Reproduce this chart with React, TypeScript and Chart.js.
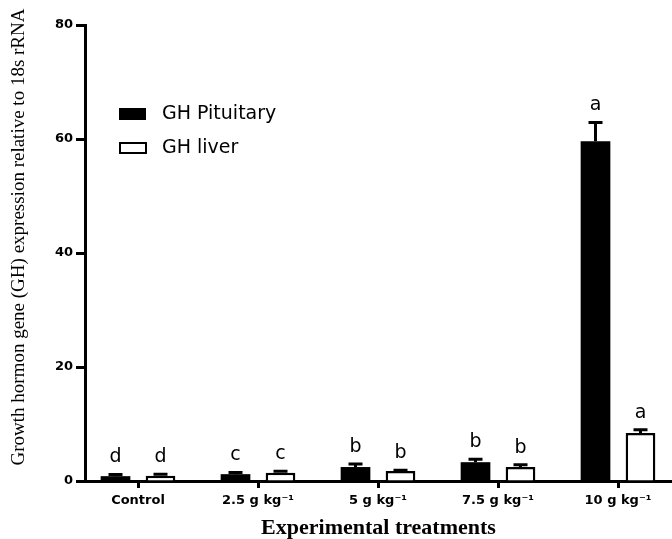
import React, { useEffect, useRef } from 'react';
import { Chart, registerables } from 'chart.js';

Chart.register(...registerables);

// ---- data ----
const categories = ['Control', '2.5 g kg⁻¹', '5 g kg⁻¹', '7.5 g kg⁻¹', '10 g kg⁻¹'];
const seriesNames = ['GH Pituitary', 'GH liver'];
const pituitary = [0.85, 1.2, 2.45, 3.3, 59.6];
const pituitaryErr = [0.3, 0.3, 0.55, 0.5, 3.3];
const pituitaryLetters = ['d', 'c', 'b', 'b', 'a'];
const liver = [0.9, 1.45, 1.75, 2.45, 8.4];
const liverErr = [0.3, 0.25, 0.15, 0.4, 0.6];
const liverLetters = ['d', 'c', 'b', 'b', 'a'];
const yTicks = [0, 20, 40, 60, 80];
const yTitle = 'Growth hormon gene (GH) expression relative to 18s rRNA';
const xTitle = 'Experimental treatments';

const annotatePlugin = {
  id: 'annotate',
  afterDatasetsDraw(chart: any) {
    const ctx = chart.ctx;
    const yScale = chart.scales.y;
    chart.data.datasets.forEach((ds: any, di: number) => {
      const meta = chart.getDatasetMeta(di);
      meta.data.forEach((bar: any, i: number) => {
        const v = ds.data[i].y;
        const e = ds.errors[i];
        const topPx = yScale.getPixelForValue(v + e);
        ctx.save();
        ctx.strokeStyle = '#000';
        ctx.lineWidth = 3;
        ctx.beginPath();
        ctx.moveTo(bar.x, bar.y);
        ctx.lineTo(bar.x, topPx);
        ctx.moveTo(bar.x - 7, topPx);
        ctx.lineTo(bar.x + 7, topPx);
        ctx.stroke();
        ctx.fillStyle = '#000';
        ctx.font = '19px "DejaVu Sans"';
        ctx.textAlign = 'center';
        ctx.textBaseline = 'alphabetic';
        ctx.fillText(ds.letters[i], bar.x, topPx - 12);
        ctx.restore();
      });
    });
  },
  afterDraw(chart: any) {
    const ctx = chart.ctx;
    ctx.save();
    // legend
    const items = chart.data.datasets;
    items.forEach((ds: any, i: number) => {
      const bx = 119;
      const by = 108 + i * 34;
      if (i === 0) {
        ctx.fillStyle = '#000';
        ctx.fillRect(bx, by, 27, 12);
      } else {
        ctx.fillStyle = '#fff';
        ctx.fillRect(bx + 1, by + 1, 26, 10);
        ctx.strokeStyle = '#000';
        ctx.lineWidth = 2;
        ctx.strokeRect(bx + 1, by + 1, 26, 10);
      }
      ctx.fillStyle = '#000';
      ctx.font = '19px "DejaVu Sans"';
      ctx.textAlign = 'left';
      ctx.textBaseline = 'middle';
      ctx.fillText(ds.label, 162, by + 6);
    });
    // y title
    ctx.translate(19, 237);
    ctx.rotate(-Math.PI / 2);
    ctx.font = '19px "Liberation Serif"';
    ctx.textAlign = 'center';
    ctx.textBaseline = 'middle';
    ctx.fillStyle = '#000';
    ctx.fillText(yTitle, 0, 0);
    ctx.restore();
  },
};

export default function App() {
  const canvasRef = useRef<HTMLCanvasElement | null>(null);

  useEffect(() => {
    document.body.style.margin = '0';
    const canvas = canvasRef.current;
    if (!canvas) return;
    const chart = new Chart(canvas, {
      type: 'bar',
      data: {
        datasets: [
          {
            label: seriesNames[0],
            data: pituitary.map((v, i) => ({ x: i, y: v })),
            errors: pituitaryErr,
            letters: pituitaryLetters,
            backgroundColor: '#000',
            borderWidth: 0,
          } as any,
          {
            label: seriesNames[1],
            data: liver.map((v, i) => ({ x: i, y: v })),
            errors: liverErr,
            letters: liverLetters,
            backgroundColor: '#fff',
            borderColor: '#000',
            borderWidth: 2.5,
          } as any,
        ],
      },
      options: {
        animation: false,
        responsive: true,
        maintainAspectRatio: false,
        layout: { padding: { top: 25, right: 0, bottom: 0, left: 0 } },
        datasets: {
          bar: { categoryPercentage: 0.75, barPercentage: 0.66 },
        },
        plugins: {
          legend: { display: false },
          tooltip: { enabled: false },
        },
        scales: {
          x: {
            type: 'linear',
            min: -0.4417,
            max: 4.45,
            bounds: 'data',
            offset: false,
            afterBuildTicks: (scale: any) => {
              scale.ticks = categories.map((_, i) => ({ value: i }));
            },
            afterFit: (scale: any) => {
              scale.height = 58;
            },
            grid: {
              offset: false,
              drawOnChartArea: false,
              drawTicks: true,
              tickLength: 7,
              tickWidth: 3,
              tickColor: '#000',
              color: '#000',
            },
            border: { display: true, color: '#000', width: 3 },
            ticks: {
              autoSkip: false,
              maxRotation: 0,
              padding: 5,
              color: '#000',
              font: { family: 'DejaVu Sans', size: 13, weight: 'bold' },
              callback: (v: any) => categories[v] ?? '',
            },
            title: {
              display: true,
              text: xTitle,
              color: '#000',
              font: { family: 'Liberation Serif', size: 22, weight: 'bold', lineHeight: 1 },
              padding: { top: 0, bottom: 0 },
            },
          },
          y: {
            type: 'linear',
            min: 0,
            max: 80,
            afterBuildTicks: (scale: any) => {
              scale.ticks = yTicks.map((v) => ({ value: v }));
            },
            afterFit: (scale: any) => {
              scale.width = 85;
            },
            grid: {
              drawOnChartArea: false,
              drawTicks: true,
              tickLength: 9,
              tickWidth: 3,
              tickColor: '#000',
              color: '#000',
            },
            border: { display: true, color: '#000', width: 3 },
            ticks: {
              padding: 3,
              color: '#000',
              font: { family: 'DejaVu Sans', size: 13, weight: 'bold' },
            },
          },
        },
      } as any,
      plugins: [annotatePlugin],
    });
    return () => chart.destroy();
  }, []);

  return (
    <div style={{ position: 'absolute', left: 0, top: 0, width: 672, height: 539 }}>
      <canvas ref={canvasRef} />
    </div>
  );
}
